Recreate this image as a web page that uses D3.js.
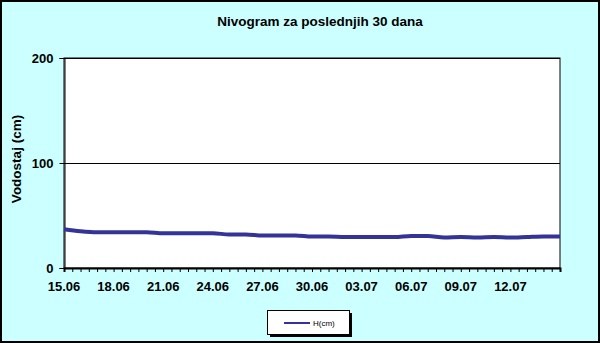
<!DOCTYPE html>
<html>
<head>
<meta charset="utf-8">
<script src="https://cdn.jsdelivr.net/npm/d3@7"></script>
<style>
  body { margin: 0; }
  svg { display: block; font-family: "Liberation Sans", Arial, sans-serif; }
</style>
</head>
<body>
<div id="chart"></div>
<script>
// daily water level, 15.06 .. 15.07
const startDate = new Date(2024, 5, 15);
const levels = [37, 35, 34, 34, 34, 34, 33, 33, 33, 33, 32, 32, 31, 31, 31, 30,
  30, 29.5, 29.5, 29.5, 29.5, 30.5, 30.5, 29, 29.5, 29, 29.5, 29, 29.5, 30, 30];
const yTicks = [0, 100, 200];
const xLabels = ["15.06", "18.06", "21.06", "24.06", "27.06", "30.06", "03.07", "06.07", "09.07", "12.07"];

const data = levels.map((v, i) => ({ date: d3.timeDay.offset(startDate, i), value: v }));

const width = 600, height = 343;
const margin = { top: 58, right: 40, bottom: 75, left: 64 };

const svg = d3.select("#chart").append("svg")
  .attr("width", width)
  .attr("height", height);

// background + border
svg.append("rect")
  .attr("x", 1).attr("y", 1)
  .attr("width", width - 2).attr("height", height - 2)
  .attr("fill", "#ccffff")
  .attr("stroke", "#000")
  .attr("stroke-width", 2);

const x = d3.scaleTime()
  .domain([startDate, d3.timeDay.offset(startDate, levels.length - 1)])
  .range([margin.left, width - margin.right]);

const y = d3.scaleLinear()
  .domain([0, 200])
  .range([height - margin.bottom, margin.top]);

// plot area
svg.append("rect")
  .attr("x", margin.left).attr("y", margin.top)
  .attr("width", x.range()[1] - margin.left)
  .attr("height", y(0) - margin.top)
  .attr("fill", "#fff")
  .attr("stroke", "#000")
  .attr("stroke-width", 1);

// gridlines
svg.append("g")
  .selectAll("line")
  .data(yTicks.filter(d => d > 0))
  .join("line")
  .attr("x1", margin.left).attr("x2", x.range()[1])
  .attr("y1", d => y(d) + 0.5).attr("y2", d => y(d) + 0.5)
  .attr("stroke", "#000");

// y axis
const yAxis = svg.append("g")
  .attr("transform", `translate(${margin.left + 0.5},0)`)
  .call(d3.axisLeft(y).tickValues(yTicks).tickSize(5).tickPadding(6));
yAxis.select(".domain").attr("stroke", "#000");
yAxis.selectAll("text")
  .attr("font-size", 13).attr("font-weight", "bold")
  .attr("font-family", "Liberation Sans, Arial, sans-serif")
  .attr("fill", "#000");

// x axis: minor ticks every 12h, labels every 3 days
const halfDays = d3.range(0, (levels.length - 1) * 2 + 1).map(i => d3.timeHour.offset(startDate, i * 12));
const xAxis = svg.append("g")
  .attr("transform", `translate(0,${y(0)})`)
  .call(d3.axisBottom(x).tickValues(halfDays).tickSize(4).tickFormat(""));
xAxis.select(".domain").attr("stroke", "#000").attr("stroke-width", 2);
xAxis.selectAll(".tick line").attr("stroke", "#000");

svg.append("g")
  .selectAll("text")
  .data(xLabels)
  .join("text")
  .attr("x", (d, i) => x(d3.timeDay.offset(startDate, i * 3)))
  .attr("y", y(0) + 23)
  .attr("text-anchor", "middle")
  .attr("font-size", 13)
  .attr("font-weight", "bold")
  .text(d => d);

// series line
const line = d3.line()
  .x(d => x(d.date))
  .y(d => y(d.value))
  .curve(d3.curveMonotoneX);

svg.append("path")
  .datum(data)
  .attr("fill", "none")
  .attr("stroke", "#333399")
  .attr("stroke-width", 4)
  .attr("d", line);

// title
svg.append("text")
  .attr("x", 320).attr("y", 26)
  .attr("text-anchor", "middle")
  .attr("font-size", 13.5)
  .attr("font-weight", "bold")
  .text("Nivogram za poslednjih 30 dana");

// y title
svg.append("text")
  .attr("transform", "translate(21,159) rotate(-90)")
  .attr("text-anchor", "middle")
  .attr("font-size", 13.5)
  .attr("font-weight", "bold")
  .text("Vodostaj (cm)");

// legend
const lg = svg.append("g").attr("transform", "translate(267,310)");
lg.append("rect")
  .attr("x", 3).attr("y", 3).attr("width", 82).attr("height", 24)
  .attr("fill", "#000");
lg.append("rect")
  .attr("x", 0.5).attr("y", 0.5).attr("width", 82).attr("height", 24)
  .attr("fill", "#fff").attr("stroke", "#000");
lg.append("line")
  .attr("x1", 17).attr("x2", 43).attr("y1", 13).attr("y2", 13)
  .attr("stroke", "#333399").attr("stroke-width", 2);
lg.append("text")
  .attr("x", 46).attr("y", 16)
  .attr("font-size", 8)
  .text("H(cm)");
</script>
</body>
</html>
